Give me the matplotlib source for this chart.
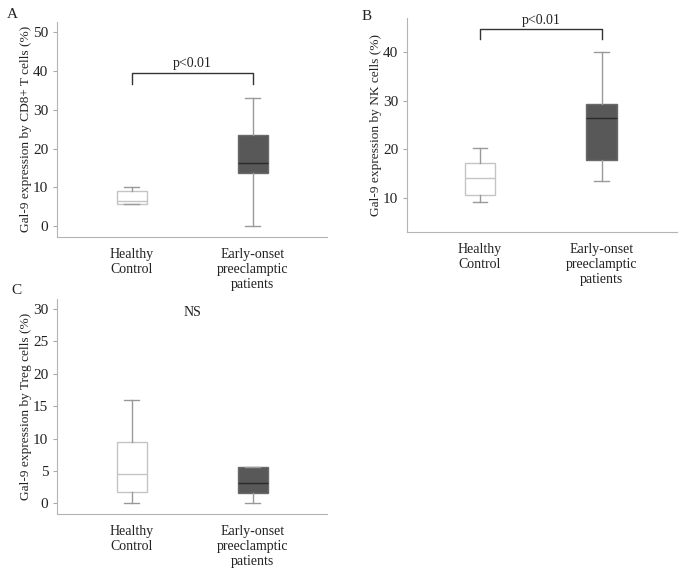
import matplotlib
matplotlib.use('Agg')
from matplotlib import pyplot as plt

plt.rcParams['font.family'] = ['Liberation Serif', 'DejaVu Serif']

groups = ['Healthy\nControl', 'Early-onset\npreeclamptic\npatients']

# five-number summaries: low whisker, Q1, median, Q3, high whisker
cd8_healthy = [5.7, 5.7, 6.5, 9.0, 10.1]
cd8_early = [0.0, 13.8, 16.2, 23.6, 32.9]
nk_healthy = [9.2, 10.6, 14.2, 17.2, 20.2]
nk_early = [13.6, 17.9, 26.4, 29.4, 40.1]
treg_healthy = [0.0, 1.75, 4.5, 9.4, 16.0]
treg_early = [0.0, 1.6, 3.1, 5.66, 5.66]

ylabels = ['Gal-9 expression by CD8+ T cells (%)',
           'Gal-9 expression by NK cells (%)',
           'Gal-9 expression by Treg cells (%)']
yticks_a = [0, 10, 20, 30, 40, 50]
yticks_b = [10, 20, 30, 40]
yticks_c = [0, 5, 10, 15, 20, 25, 30]

W, H = 683, 571
fig = plt.figure(figsize=(W / 100, H / 100), dpi=100)


def stats(v):
    return dict(whislo=v[0], q1=v[1], med=v[2], q3=v[3], whishi=v[4], fliers=[])


def panel(rect, healthy, early, ylabel, yticks, ylim, xlim):
    ax = fig.add_axes(rect)
    ax.bxp([stats(healthy)], positions=[1], widths=0.25, capwidths=0.12,
           patch_artist=True,
           boxprops=dict(facecolor='white', edgecolor='#c4c4c4', lw=1),
           medianprops=dict(color='#c4c4c4', lw=1),
           whiskerprops=dict(color='#9a9a9a', lw=1),
           capprops=dict(color='#9a9a9a', lw=1))
    ax.bxp([stats(early)], positions=[2], widths=0.25, capwidths=0.12,
           patch_artist=True,
           boxprops=dict(facecolor='#585858', edgecolor='#6a6a6a', lw=1),
           medianprops=dict(color='#2a2a2a', lw=1),
           whiskerprops=dict(color='#9a9a9a', lw=1),
           capprops=dict(color='#9a9a9a', lw=1))
    ax.set_xlim(*xlim)
    ax.set_ylim(*ylim)
    ax.set_xticks([1, 2])
    ax.set_xticklabels(groups, fontsize=10, color='#222222', linespacing=1.2)
    ax.set_yticks(yticks)
    ax.tick_params(axis='x', length=0, pad=8)
    ax.tick_params(axis='y', length=3, color='#aaaaaa', labelsize=11,
                   labelcolor='#222222', pad=3.5)
    ax.set_ylabel(ylabel, fontsize=9.6, color='#222222', labelpad=1)
    for s in ['top', 'right']:
        ax.spines[s].set_visible(False)
    for s in ['left', 'bottom']:
        ax.spines[s].set_color('#b4b4b4')
    return ax


def bracket(ax, y, leg, text, ty):
    ax.plot([1, 1, 2, 2], [leg, y, y, leg], color='#333333', lw=1)
    ax.text(1.5, ty, text, ha='center', va='bottom', fontsize=10, color='#222222')


ax_a = panel([57.3 / W, 1 - 236.7 / H, 269.7 / W, 214.7 / H],
             cd8_healthy, cd8_early, ylabels[0], yticks_a, (-2.7, 52.6), (0.385, 2.615))
bracket(ax_a, 39.4, 36.6, 'p<0.01', 40.2)

ax_b = panel([407.3 / W, 1 - 232.3 / H, 269.4 / W, 214.0 / H],
             nk_healthy, nk_early, ylabels[1], yticks_b, (2.94, 47.0), (0.403, 2.616))
bracket(ax_b, 44.7, 42.7, 'p<0.01', 45.2)

ax_c = panel([57.3 / W, 1 - 514 / H, 269.7 / W, 214.7 / H],
             treg_healthy, treg_early, ylabels[2], yticks_c, (-1.65, 31.5), (0.385, 2.615))
ax_c.text(1.5, 29.5, 'NS', ha='center', va='center', fontsize=10, color='#222222')

fig.text(12 / W, 1 - 14 / H, 'A', fontsize=11, ha='center', va='center', color='#222222')
fig.text(367 / W, 1 - 17 / H, 'B', fontsize=11, ha='center', va='center', color='#222222')
fig.text(16 / W, 1 - 290 / H, 'C', fontsize=11, ha='center', va='center', color='#222222')

fig.savefig('out.png', dpi=100)
